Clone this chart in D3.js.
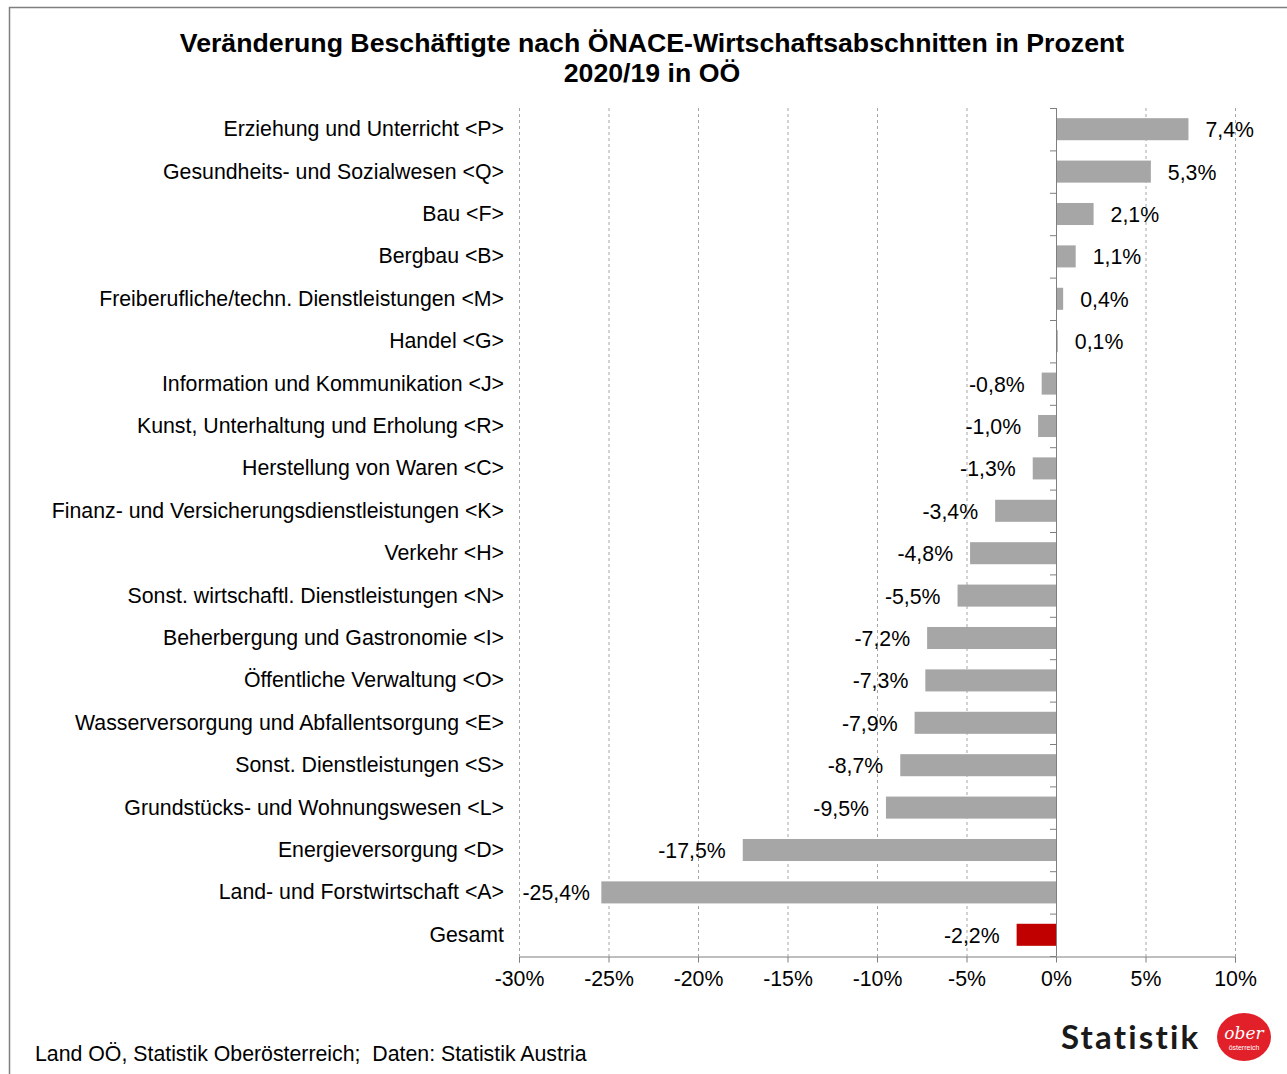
<!DOCTYPE html>
<html><head><meta charset="utf-8">
<script src="https://cdn.jsdelivr.net/npm/d3@7"></script>
<style>body{margin:0;background:#fff;} svg{display:block;font-family:"Liberation Sans",Arial,sans-serif;}</style>
</head><body>
<svg id="c" width="1287" height="1074"></svg>
<script>
const categories = ["Erziehung und Unterricht <P>","Gesundheits- und Sozialwesen <Q>","Bau <F>","Bergbau <B>","Freiberufliche/techn. Dienstleistungen <M>","Handel <G>","Information und Kommunikation <J>","Kunst, Unterhaltung und Erholung <R>","Herstellung von Waren <C>","Finanz- und Versicherungsdienstleistungen <K>","Verkehr <H>","Sonst. wirtschaftl. Dienstleistungen <N>","Beherbergung und Gastronomie <I>","Öffentliche Verwaltung <O>","Wasserversorgung und Abfallentsorgung <E>","Sonst. Dienstleistungen <S>","Grundstücks- und Wohnungswesen <L>","Energieversorgung <D>","Land- und Forstwirtschaft <A>","Gesamt"];
const values = [7.4,5.3,2.1,1.1,0.4,0.1,-0.8,-1.0,-1.3,-3.4,-4.8,-5.5,-7.2,-7.3,-7.9,-8.7,-9.5,-17.5,-25.4,-2.2];
const xTicks = [-30,-25,-20,-15,-10,-5,0,5,10];
const titleLines = ["Veränderung Beschäftigte nach ÖNACE-Wirtschaftsabschnitten in Prozent","2020/19 in OÖ"];
const footer = "Land OÖ, Statistik Oberösterreich;  Daten: Statistik Austria";

const FS = 21.3;
const svg = d3.select("#c");
// frame
svg.append("rect").attr("x",9.5).attr("y",7.5).attr("width",1300).attr("height",1100)
  .attr("fill","none").attr("stroke","#7f7f7f").attr("stroke-width",1.5);

const x = d3.scaleLinear().domain([-30,10]).range([519,1235]);
const y = d3.scaleBand().domain(categories).range([108,956]).paddingInner(0.48).paddingOuter(0.24);
const yb = d3.scaleBand().domain(categories).range([108,956]);

// grid
svg.append("g").selectAll("line").data(xTicks).join("line")
  .attr("x1",d=>x(d)+0.5).attr("x2",d=>x(d)+0.5).attr("y1",108).attr("y2",956)
  .attr("stroke","#a6a6a6").attr("stroke-dasharray","3,3").attr("stroke-width",1);

// bars
svg.append("g").selectAll("rect").data(values).join("rect")
  .attr("x",d=>x(Math.min(0,d))).attr("width",d=>Math.abs(x(d)-x(0)))
  .attr("y",(d,i)=>y(categories[i])).attr("height",y.bandwidth())
  .attr("fill",(d,i)=>categories[i]==="Gesamt"?"#c00000":"#a6a6a6");

// x axis
const xa = svg.append("g").attr("transform","translate(0,956.5)")
  .call(d3.axisBottom(x).tickValues(xTicks).tickSize(6).tickPadding(8).tickFormat(d=>d+"%"));
xa.select(".domain").attr("stroke","#7f7f7f");
xa.selectAll(".tick line").attr("stroke","#7f7f7f");
xa.selectAll("text").attr("font-size",FS).attr("fill","#000").attr("font-family","Liberation Sans, Arial, sans-serif");

// y axis line at 0
svg.append("line").attr("x1",x(0)+0.5).attr("x2",x(0)+0.5).attr("y1",108).attr("y2",956)
  .attr("stroke","#7f7f7f");
svg.append("g").selectAll("line").data(d3.range(categories.length+1)).join("line")
  .attr("x1",x(0)-6).attr("x2",x(0)).attr("y1",i=>108+i*yb.step()+0.5).attr("y2",i=>108+i*yb.step()+0.5)
  .attr("stroke","#7f7f7f");

// category labels
svg.append("g").selectAll("text").data(categories).join("text")
  .attr("x",504).attr("y",d=>yb(d)+yb.bandwidth()/2).attr("dy","0.33em")
  .attr("text-anchor","end").attr("font-size",FS).text(d=>d);

// value labels
const fmt = v=>v.toFixed(1).replace(".",",")+"%";
svg.append("g").selectAll("text").data(values).join("text")
  .attr("x",d=>d>=0? x(d)+17 : Math.max(x(d)-17, 590))
  .attr("y",(d,i)=>yb(categories[i])+yb.bandwidth()/2).attr("dy","0.38em")
  .attr("text-anchor",d=>d>=0?"start":"end").attr("font-size",FS).text(fmt);

// title
svg.append("g").selectAll("text").data(titleLines).join("text")
  .attr("x",652).attr("y",(d,i)=>52+i*30).attr("text-anchor","middle")
  .attr("font-weight","bold").attr("font-size",26.7).text(d=>d);

// footer
svg.append("text").attr("x",35).attr("y",1061).attr("font-size",FS)
  .style("white-space","pre").text(footer);

// logo
svg.append("text").attr("x",1061).attr("y",1049).attr("font-family","Lato, 'Open Sans', sans-serif")
  .attr("font-weight","bold").attr("font-size",33).attr("fill","#1a1a1a").attr("letter-spacing",2.2).text("Statistik");
svg.append("ellipse").attr("cx",1244).attr("cy",1037).attr("rx",27).attr("ry",24).attr("fill","#e2202a");
svg.append("text").attr("x",1244).attr("y",1039).attr("text-anchor","middle").attr("font-family","DejaVu Serif, serif")
  .attr("font-style","italic").attr("font-size",17).attr("fill","#fff").text("ober");
svg.append("text").attr("x",1244).attr("y",1050).attr("text-anchor","middle")
  .attr("font-size",7).attr("fill","#fff").text("österreich");
</script>
</body></html>
